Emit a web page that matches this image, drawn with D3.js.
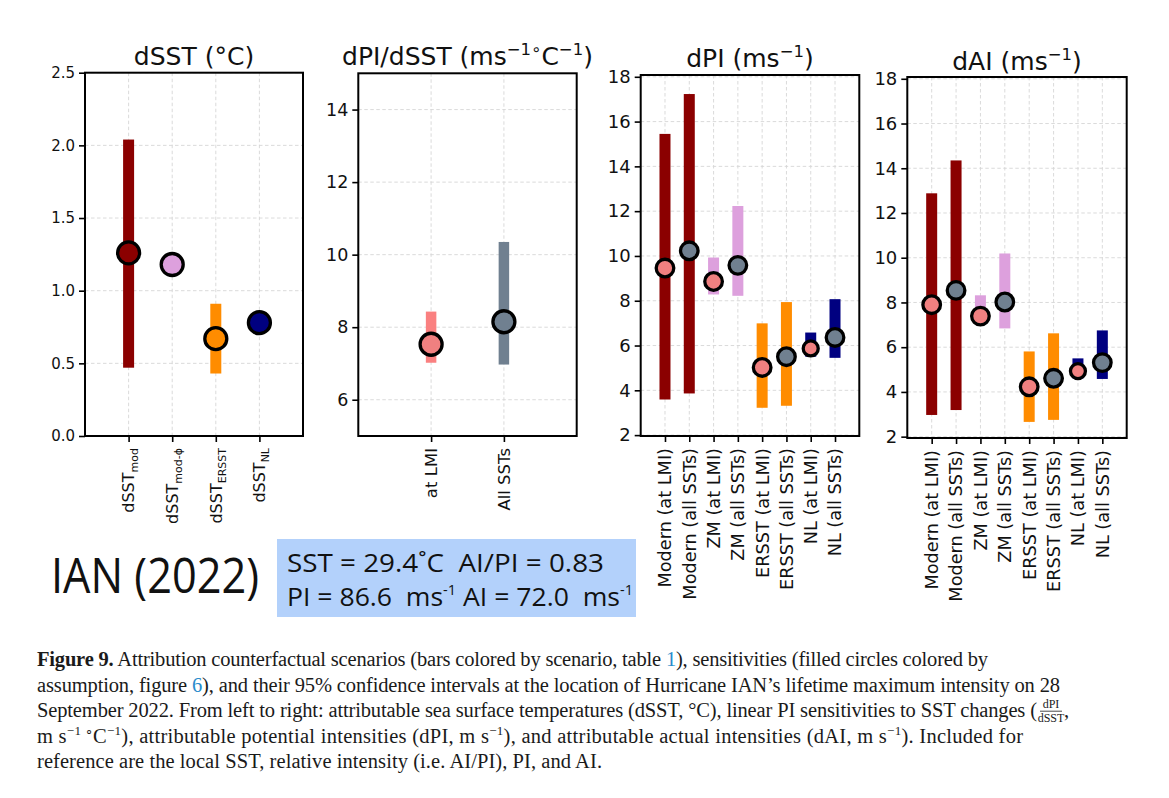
<!DOCTYPE html>
<html><head><meta charset="utf-8">
<script src="https://cdn.jsdelivr.net/npm/d3@7"></script>
<style>body{margin:0;background:#fff} svg{display:block} .pre{white-space:pre}</style>
</head><body>
<svg id="c" width="1169" height="798"></svg>
<script>
// ---------- data ----------
const sstNames = ["mod", "mod-\u03d5", "ERSST", "NL"];
const sstLow   = [0.47, null, 0.43, null];
const sstHigh  = [2.04, null, 0.91, null];
const sstPoint = [1.26, 1.18, 0.67, 0.78];
const sstTicks = [0, 0.5, 1.0, 1.5, 2.0, 2.5];

const sensNames = ["at LMI", "All SSTs"];
const sensLow   = [7.02, 6.97];
const sensHigh  = [8.43, 10.35];
const sensPoint = [7.53, 8.15];
const sensTicks = [6, 8, 10, 12, 14];

const scenNames = ["Modern (at LMI)", "Modern (all SSTs)", "ZM (at LMI)", "ZM (all SSTs)",
                   "ERSST (at LMI)", "ERSST (all SSTs)", "NL (at LMI)", "NL (all SSTs)"];
const dpiLow   = [3.59, 3.86, 8.28, 8.22, 3.22, 3.31, 5.50, 5.45];
const dpiHigh  = [15.45, 17.23, 9.93, 12.23, 6.99, 7.94, 6.58, 8.07];
const dpiPoint = [9.46, 10.23, 8.86, 9.58, 5.02, 5.50, 5.87, 6.36];
const daiLow   = [2.97, 3.19, 7.00, 6.84, 2.66, 2.75, 4.60, 4.58];
const daiHigh  = [12.88, 14.35, 8.32, 10.19, 5.81, 6.62, 5.50, 6.75];
const daiPoint = [7.90, 8.54, 7.39, 8.02, 4.23, 4.61, 4.93, 5.31];
const intTicks = [2, 4, 6, 8, 10, 12, 14, 16, 18];

const infoLine1 = "SST = 29.4\u02daC  AI/PI = 0.83";
const stormName = "IAN (2022)";

// ---------- styles ----------
const C = {darkred:"#8b0000", plum:"#dda0dd", orange:"#ff8c00", navy:"#000080",
           coral:"#f08080", slate:"#708090", coralBar:"#fa8080"};
const FONT = "DejaVu Sans, sans-serif";
const TS = 25, TSS = 16.5, TUP = 10;
const svg = d3.select("#c");
svg.append("rect").attr("width",1169).attr("height",798).attr("fill","#fff");

function panel(cfg){
  const x = d3.scaleLinear().domain(cfg.xDomain).range([cfg.x0,cfg.x1]);
  const y = d3.scaleLinear().domain(cfg.yDomain).range([cfg.y1,cfg.y0]);
  const g = svg.append("g");
  const idx = cfg.points.map((d,i)=>i);
  // grid
  g.selectAll(".gy").data(cfg.yTicks).join("line")
    .attr("x1",cfg.x0).attr("x2",cfg.x1).attr("y1",d=>y(d)).attr("y2",d=>y(d))
    .attr("stroke","#d6d6d6").attr("stroke-width",0.9).attr("stroke-dasharray","3.5,2.5");
  g.selectAll(".gx").data(idx).join("line")
    .attr("x1",d=>x(d)).attr("x2",d=>x(d)).attr("y1",cfg.y0).attr("y2",cfg.y1)
    .attr("stroke","#d6d6d6").attr("stroke-width",0.9).attr("stroke-dasharray","3.5,2.5");
  // bars
  g.selectAll(".bar").data(idx.filter(i=>cfg.low[i]!=null)).join("rect")
    .attr("x",i=>x(i)-cfg.barW/2).attr("width",cfg.barW)
    .attr("y",i=>y(cfg.high[i])).attr("height",i=>y(cfg.low[i])-y(cfg.high[i]))
    .attr("fill",i=>cfg.barColors[i]);
  // points
  g.selectAll(".pt").data(idx).join("circle")
    .attr("cx",i=>x(i)).attr("cy",i=>y(cfg.points[i])).attr("r",i=>cfg.radii[i])
    .attr("fill",i=>cfg.ptColors[i]).attr("stroke","#000").attr("stroke-width",3.3);
  // frame
  g.append("rect").attr("x",cfg.x0).attr("y",cfg.y0).attr("width",cfg.x1-cfg.x0).attr("height",cfg.y1-cfg.y0)
    .attr("fill","none").attr("stroke","#000").attr("stroke-width",2);
  // y axis
  const ya = g.append("g").attr("transform",`translate(${cfg.x0},0)`)
    .call(d3.axisLeft(y).tickValues(cfg.yTicks).tickFormat(cfg.yFmt).tickSize(6).tickPadding(4));
  ya.select(".domain").remove();
  ya.selectAll("line").attr("stroke","#000").attr("stroke-width",1.6);
  ya.selectAll("text").attr("font-family",FONT).attr("font-size",cfg.tickFont).attr("fill","#111");
  // x axis
  const xa = g.append("g").attr("transform",`translate(0,${cfg.y1})`)
    .call(d3.axisBottom(x).tickValues(idx).tickFormat("").tickSize(6));
  xa.select(".domain").remove();
  xa.selectAll("line").attr("stroke","#000").attr("stroke-width",1.6);
  idx.forEach(i=>{
    const t = g.append("text").attr("transform",`translate(${x(i)},${cfg.y1+12}) rotate(-90)`)
      .attr("text-anchor","end").attr("dy","0.36em")
      .attr("font-family",FONT).attr("font-size",cfg.xFont).attr("fill","#111");
    cfg.labelFn(t, i);
  });
  // title
  const tt = svg.append("text").attr("x",(cfg.x0+cfg.x1)/2).attr("y",cfg.titleY)
    .attr("text-anchor","middle").attr("font-family",FONT).attr("font-size",TS).attr("fill","#111");
  cfg.titleFn(tt);
}

panel({x0:85,x1:303,y0:72.7,y1:436,xDomain:[-1,4],yDomain:[0,2.5],yTicks:sstTicks,yFmt:d3.format(".1f"),
  points:sstPoint,low:sstLow,high:sstHigh,barW:11,
  barColors:[C.darkred,C.plum,C.orange,C.navy],ptColors:[C.darkred,C.plum,C.orange,C.navy],
  radii:[11,11,11,11],tickFont:15,xFont:16,titleY:65,
  labelFn:(t,i)=>{t.append("tspan").text("dSST");
    t.append("tspan").attr("font-size",11).attr("dy",4).text(sstNames[i]);},
  titleFn:t=>{t.text("dSST (\u00b0C)");}
});

panel({x0:358.3,x1:576.7,y0:73.3,y1:436,xDomain:[-1,2],yDomain:[5,15],yTicks:sensTicks,yFmt:d3.format("d"),
  points:sensPoint,low:sensLow,high:sensHigh,barW:10.5,
  barColors:[C.coralBar,C.slate],ptColors:[C.coral,C.slate],
  radii:[11,11],tickFont:17.5,xFont:16.5,titleY:65,
  labelFn:(t,i)=>{t.text(sensNames[i]);},
  titleFn:t=>{t.append("tspan").text("dPI/dSST (ms");
    t.append("tspan").attr("font-size",TSS).attr("dy",-TUP).text("\u22121\u2218");
    t.append("tspan").attr("font-size",TS).attr("dy",TUP).text("C");
    t.append("tspan").attr("font-size",TSS).attr("dy",-TUP).text("\u22121");
    t.append("tspan").attr("font-size",TS).attr("dy",TUP).text(")");}
});

const scenBar = [C.darkred,C.darkred,C.plum,C.plum,C.orange,C.orange,C.navy,C.navy];
const scenPt = [C.coral,C.slate,C.coral,C.slate,C.coral,C.slate,C.coral,C.slate];
const scenR = [8.8,8.8,8.8,8.8,8.8,8.8,7.5,8.8];

panel({x0:640.7,x1:859.3,y0:75,y1:436,xDomain:[-1,8],yDomain:[1.96,18.08],yTicks:intTicks,yFmt:d3.format("d"),
  points:dpiPoint,low:dpiLow,high:dpiHigh,barW:11,barColors:scenBar,ptColors:scenPt,radii:scenR,
  tickFont:18,xFont:17.7,titleY:67,
  labelFn:(t,i)=>{t.text(scenNames[i]);},
  titleFn:t=>{t.append("tspan").text("dPI (ms");
    t.append("tspan").attr("font-size",TSS).attr("dy",-TUP).text("\u22121");
    t.append("tspan").attr("font-size",TS).attr("dy",TUP).text(")");}
});

panel({x0:907.3,x1:1126.7,y0:77,y1:438,xDomain:[-1,8],yDomain:[1.94,18.08],yTicks:intTicks,yFmt:d3.format("d"),
  points:daiPoint,low:daiLow,high:daiHigh,barW:11,barColors:scenBar,ptColors:scenPt,radii:scenR,
  tickFont:18,xFont:17.7,titleY:70,
  labelFn:(t,i)=>{t.text(scenNames[i]);},
  titleFn:t=>{t.append("tspan").text("dAI (ms");
    t.append("tspan").attr("font-size",TSS).attr("dy",-TUP).text("\u22121");
    t.append("tspan").attr("font-size",TS).attr("dy",TUP).text(")");}
});

// ---------- storm name and info box ----------
svg.append("text").attr("x",51).attr("y",593).attr("font-family","Open Sans, sans-serif")
  .attr("font-size",50).attr("textLength",208).attr("lengthAdjust","spacingAndGlyphs").attr("fill","#111").text(stormName);
svg.append("rect").attr("x",277).attr("y",539).attr("width",359).attr("height",78).attr("fill","#b3d1fb");
svg.append("text").attr("class","pre").attr("x",287).attr("y",572).attr("font-family","Open Sans, sans-serif")
  .attr("font-size",25.6).attr("textLength",317).attr("lengthAdjust","spacingAndGlyphs").attr("fill","#111").text(infoLine1);
{
  const t = svg.append("text").attr("class","pre").attr("x",287).attr("y",606).attr("font-family","Open Sans, sans-serif")
    .attr("font-size",25.6).attr("textLength",346).attr("lengthAdjust","spacingAndGlyphs").attr("fill","#111");
  t.append("tspan").text("PI = 86.6  ms");
  t.append("tspan").attr("font-size",14).attr("dy",-11).text("-1");
  t.append("tspan").attr("font-size",25.6).attr("dy",11).text(" AI = 72.0  ms");
  t.append("tspan").attr("font-size",14).attr("dy",-11).text("-1");
}

// ---------- caption ----------
const CF = "Liberation Serif, serif", CS = 20.5, LH = 25.6, CX = 37, CY = 666;
const blue = "#2a8ccc";
function capLine(k, len){ return svg.append("text").attr("x",CX).attr("y",CY+k*LH)
  .attr("font-family",CF).attr("font-size",CS).attr("fill","#1a1a1a")
  .attr("textLength",len).attr("lengthAdjust","spacing"); }
function sup(t, s, after){ t.append("tspan").attr("font-size",13).attr("dy",-8).text(s);
  t.append("tspan").attr("font-size",CS).attr("dy",8).text(after); }
{
  const t = capLine(0, 951);
  t.append("tspan").attr("font-weight","bold").text("Figure 9.");
  t.append("tspan").text(" Attribution counterfactual scenarios (bars colored by scenario, table ");
  t.append("tspan").attr("fill",blue).text("1");
  t.append("tspan").text("), sensitivities (filled circles colored by");
}
{
  const t = capLine(1, 1023);
  t.append("tspan").text("assumption, figure ");
  t.append("tspan").attr("fill",blue).text("6");
  t.append("tspan").text("), and their 95% confidence intervals at the location of Hurricane IAN\u2019s lifetime maximum intensity on 28");
}
{
  const t = capLine(2, 1000);
  t.text("September 2022. From left to right: attributable sea surface temperatures (dSST, \u00b0C), linear PI sensitivities to SST changes (");
  const fx = 1051;
  svg.append("text").attr("x",fx).attr("y",CY+2*LH-9).attr("text-anchor","middle")
    .attr("font-family",CF).attr("font-size",12).attr("fill","#1a1a1a").text("dPI");
  svg.append("line").attr("x1",fx-11).attr("x2",fx+11).attr("y1",CY+2*LH-6).attr("y2",CY+2*LH-6)
    .attr("stroke","#1a1a1a").attr("stroke-width",0.8);
  svg.append("text").attr("x",fx).attr("y",CY+2*LH+5).attr("text-anchor","middle")
    .attr("font-family",CF).attr("font-size",12).attr("fill","#1a1a1a").text("dSST");
  svg.append("text").attr("x",fx+13).attr("y",CY+2*LH).attr("font-family",CF).attr("font-size",CS)
    .attr("fill","#1a1a1a").text(",");
}
{
  const t = capLine(3, 986);
  t.append("tspan").text("m s"); sup(t,"\u22121 \u2218","C");
  sup(t,"\u22121","), attributable potential intensities (dPI, m s");
  sup(t,"\u22121","), and attributable actual intensities (dAI, m s");
  sup(t,"\u22121","). Included for");
}
{
  const t = capLine(4, 565);
  t.text("reference are the local SST, relative intensity (i.e. AI/PI), PI, and AI.");
}
</script>
</body></html>
